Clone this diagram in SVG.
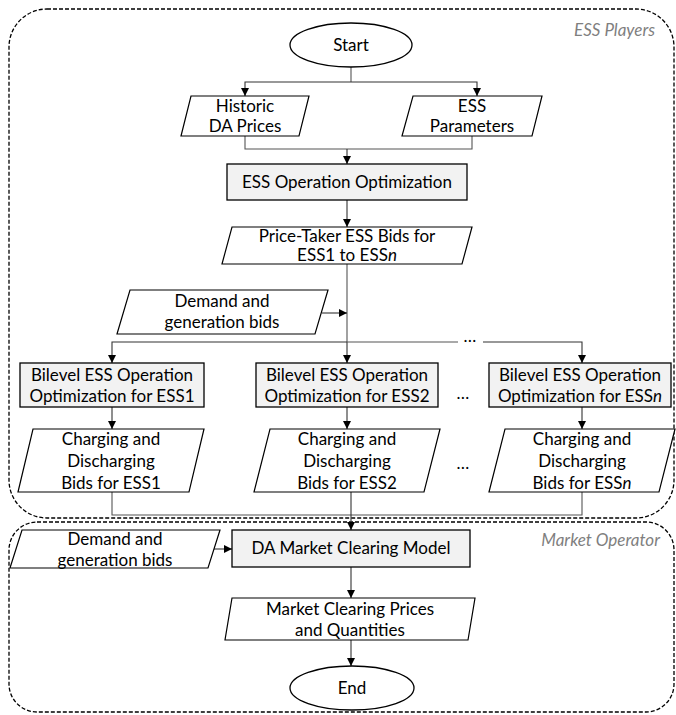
<svg xmlns="http://www.w3.org/2000/svg" width="676" height="715" viewBox="0 0 676 715">
<defs>
<marker id="ah" viewBox="0 0 10 10" refX="10" refY="5" markerWidth="8" markerHeight="8" markerUnits="userSpaceOnUse" orient="auto">
<path d="M0,0 L10,5 L0,10 z" fill="#000"/>
</marker>
<style>
.t{font-family:Lato,"Open Sans","Liberation Sans",sans-serif;font-size:17px;fill:#000;text-anchor:middle}
.lbl{font-family:Lato,"Open Sans","Liberation Sans",sans-serif;font-size:17px;fill:#7f7f7f;font-style:italic;text-anchor:end}
.box{fill:#f2f2f2;stroke:#000;stroke-width:1.3}
.io{fill:#fff;stroke:#000;stroke-width:1.2}
.term{fill:#fff;stroke:#000;stroke-width:1.3}
.c{fill:none;stroke:#555;stroke-width:1.1}
.ca{fill:none;stroke:#333;stroke-width:1.1;marker-end:url(#ah)}
.grp{fill:none;stroke:#000;stroke-width:1.3;stroke-dasharray:4 2}
</style>
</defs>
<g id="containers">
<rect class="grp" x="9" y="9" width="665" height="509" rx="38" ry="38"/>
<rect class="grp" x="9" y="522" width="665" height="190" rx="28" ry="28"/>
<text class="lbl" x="655" y="36">ESS Players</text>
<text class="lbl" x="660" y="546">Market Operator</text>
</g>
<g id="connectors">
<polyline class="c" points="351,67 351,82"/>
<polyline class="ca" points="351,82 245,82 245,96"/>
<polyline class="ca" points="351,82 477,82 477,96"/>
<polyline class="c" points="245,136 245,149 472,149 472,136"/>
<line class="ca" x1="347" y1="149" x2="347" y2="164"/>
<line class="ca" x1="347" y1="200" x2="347" y2="227"/>
<line class="c" x1="347" y1="264" x2="347" y2="342"/>
<line class="ca" x1="322" y1="313" x2="347" y2="313"/>
<polyline class="ca" points="347,342 112,342 112,363"/>
<line class="ca" x1="347" y1="342" x2="347" y2="363"/>
<polyline class="c" points="347,342 458,342"/>
<polyline class="ca" points="483,342 582,342 582,363"/>
<line class="ca" x1="112" y1="407" x2="112" y2="429"/>
<line class="ca" x1="347" y1="407" x2="347" y2="429"/>
<line class="ca" x1="582" y1="407" x2="582" y2="429"/>
<polyline class="c" points="112,492 112,515 582,515 582,492"/>
<line class="ca" x1="351" y1="492" x2="351" y2="530"/>
<line class="ca" x1="213" y1="549" x2="232" y2="549"/>
<line class="ca" x1="351" y1="567" x2="351" y2="598"/>
<line class="ca" x1="351" y1="640" x2="351" y2="666"/>
<text class="t" x="470" y="342">…</text>
<text class="t" x="463" y="399">…</text>
<text class="t" x="463" y="469">…</text>
</g>
<g id="start">
<ellipse class="term" cx="351" cy="45" rx="61" ry="22"/>
<text class="t" x="351" y="51">Start</text>
</g>
<g id="historic">
<polygon class="io" points="191,96 309,96 299,136 181,136"/>
<text class="t" x="245" y="112">Historic</text>
<text class="t" x="245" y="132">DA Prices</text>
</g>
<g id="essparams">
<polygon class="io" points="413,96 542,96 532,136 402,136"/>
<text class="t" x="472" y="112">ESS</text>
<text class="t" x="472" y="132">Parameters</text>
</g>
<g id="essopt">
<rect class="box" x="227" y="164" width="240" height="36"/>
<text class="t" x="347" y="188">ESS Operation Optimization</text>
</g>
<g id="pricetaker">
<polygon class="io" points="232,227 472,227 462,264 222,264"/>
<text class="t" x="347" y="242">Price-Taker ESS Bids for</text>
<text class="t" x="347" y="261">ESS1 to ESS<tspan font-style="italic">n</tspan></text>
</g>
<g id="demand1">
<polygon class="io" points="130,290 328,290 315,334 117,334"/>
<text class="t" x="222" y="307">Demand and</text>
<text class="t" x="222" y="328">generation bids</text>
</g>
<g id="bilevel1">
<rect class="box" x="20" y="363" width="184" height="44"/>
<text class="t" x="112" y="381">Bilevel ESS Operation</text>
<text class="t" x="112" y="402">Optimization for ESS1</text>
</g>
<g id="bilevel2">
<rect class="box" x="256" y="363" width="182" height="44"/>
<text class="t" x="347" y="381">Bilevel ESS Operation</text>
<text class="t" x="347" y="402">Optimization for ESS2</text>
</g>
<g id="bileveln">
<rect class="box" x="489" y="363" width="182" height="44"/>
<text class="t" x="580" y="381">Bilevel ESS Operation</text>
<text class="t" x="580" y="402">Optimization for ESS<tspan font-style="italic">n</tspan></text>
</g>
<g id="bids1">
<polygon class="io" points="33,429 204,429 189,492 18,492"/>
<text class="t" x="111" y="445">Charging and</text>
<text class="t" x="111" y="467">Discharging</text>
<text class="t" x="111" y="489">Bids for ESS1</text>
</g>
<g id="bids2">
<polygon class="io" points="270,429 440,429 424,492 254,492"/>
<text class="t" x="347" y="445">Charging and</text>
<text class="t" x="347" y="467">Discharging</text>
<text class="t" x="347" y="489">Bids for ESS2</text>
</g>
<g id="bidsn">
<polygon class="io" points="505,429 675,429 659,492 489,492"/>
<text class="t" x="582" y="445">Charging and</text>
<text class="t" x="582" y="467">Discharging</text>
<text class="t" x="582" y="489">Bids for ESS<tspan font-style="italic">n</tspan></text>
</g>
<g id="demand2">
<polygon class="io" points="22,530 220,530 208,568 10,568"/>
<text class="t" x="115" y="545">Demand and</text>
<text class="t" x="115" y="566">generation bids</text>
</g>
<g id="damarket">
<rect class="box" x="232" y="530" width="238" height="37"/>
<text class="t" x="351" y="554">DA Market Clearing Model</text>
</g>
<g id="mcp">
<polygon class="io" points="232,598 475,598 468,640 225,640"/>
<text class="t" x="350" y="615">Market Clearing Prices</text>
<text class="t" x="350" y="636">and Quantities</text>
</g>
<g id="end">
<ellipse class="term" cx="352" cy="688" rx="62" ry="22"/>
<text class="t" x="352" y="694">End</text>
</g>
</svg>
